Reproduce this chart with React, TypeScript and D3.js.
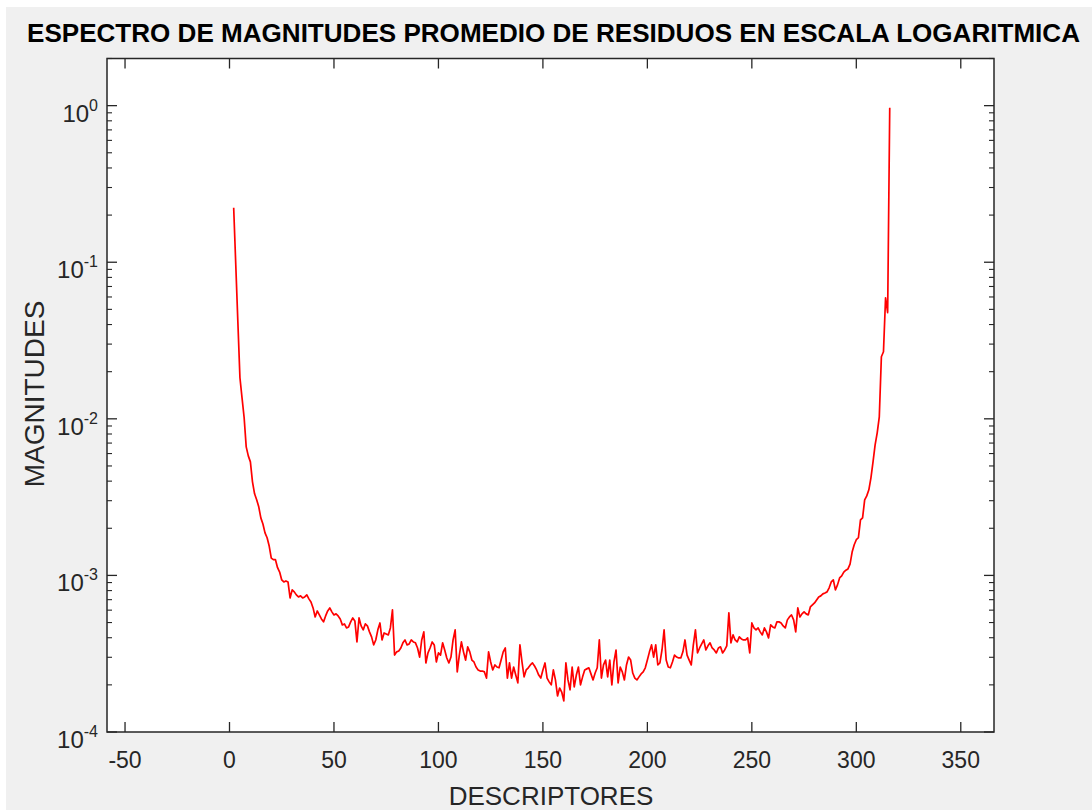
import React from "react";
import * as d3 from "d3";

// Descriptor index (x) and mean residual magnitude (y) per descriptor
const descriptors: number[] = d3.range(2, 317);
const magnitudes: number[] = [
  0.223, 0.0964, 0.0417, 0.0183, 0.0136, 0.0102, 0.00662, 0.0058, 0.00531, 0.00396,
  0.00332, 0.00304, 0.00274, 0.00233, 0.00213, 0.00187, 0.00174, 0.00154, 0.00129, 0.00126,
  0.00126, 0.00112, 0.00105, 9.36e-4, 9.08e-4, 9.22e-4, 9.08e-4, 7.18e-4, 8.08e-4, 7.85e-4,
  7.51e-4, 7.29e-4, 7.4e-4, 7.18e-4, 7.29e-4, 7.51e-4, 7.08e-4, 6.77e-4, 6.2e-4, 5.43e-4,
  5.93e-4, 5.59e-4, 5.27e-4, 5.05e-4, 5.51e-4, 5.93e-4, 6.2e-4, 5.85e-4, 5.59e-4, 5.68e-4,
  5.51e-4, 5.27e-4, 4.83e-4, 4.9e-4, 4.62e-4, 4.69e-4, 5.05e-4, 5.35e-4, 5.12e-4, 3.76e-4,
  5.35e-4, 4.76e-4, 4.49e-4, 4.9e-4, 4.76e-4, 4.36e-4, 4.05e-4, 3.6e-4, 3.87e-4, 4.49e-4,
  4.97e-4, 3.87e-4, 4.29e-4, 4.23e-4, 4.17e-4, 4.62e-4, 6.02e-4, 3.1e-4, 3.25e-4, 3.29e-4,
  3.44e-4, 3.71e-4, 3.87e-4, 3.6e-4, 3.65e-4, 3.87e-4, 3.76e-4, 3.71e-4, 3.44e-4, 3.01e-4,
  3.87e-4, 4.36e-4, 2.76e-4, 3.2e-4, 3.44e-4, 3.76e-4, 3.6e-4, 2.8e-4, 3.2e-4, 3.1e-4,
  3.71e-4, 3.34e-4, 2.97e-4, 2.76e-4, 3.01e-4, 3.87e-4, 4.49e-4, 2.42e-4, 3.1e-4, 3.76e-4,
  3.25e-4, 2.88e-4, 3.5e-4, 3.25e-4, 2.88e-4, 2.8e-4, 2.6e-4, 2.49e-4, 2.45e-4, 2.45e-4,
  2.42e-4, 2.21e-4, 3.25e-4, 2.8e-4, 2.49e-4, 2.68e-4, 2.6e-4, 2.57e-4, 2.88e-4, 3.25e-4,
  3.44e-4, 2.21e-4, 2.76e-4, 2.21e-4, 2.6e-4, 2.31e-4, 2.06e-4, 3.6e-4, 2.8e-4, 2.25e-4,
  2.49e-4, 2.57e-4, 2.68e-4, 2.76e-4, 2.64e-4, 2.49e-4, 2.31e-4, 2.21e-4, 2.49e-4, 2.76e-4,
  2.21e-4, 2.09e-4, 2.0e-4, 2.49e-4, 2.15e-4, 1.7e-4, 1.91e-4, 1.8e-4, 1.58e-4, 2.76e-4,
  2.15e-4, 1.86e-4, 2.6e-4, 1.94e-4, 2.31e-4, 2.6e-4, 2.0e-4, 2.25e-4, 2.49e-4, 2.53e-4,
  2.57e-4, 2.35e-4, 2.15e-4, 2.38e-4, 2.57e-4, 3.87e-4, 2.21e-4, 2.68e-4, 2.88e-4, 2.25e-4,
  2.88e-4, 2.0e-4, 2.8e-4, 3.34e-4, 2.06e-4, 2.6e-4, 2.42e-4, 2.15e-4, 2.68e-4, 3.01e-4,
  2.88e-4, 2.38e-4, 2.21e-4, 2.15e-4, 2.25e-4, 2.35e-4, 2.42e-4, 2.57e-4, 2.88e-4, 3.25e-4,
  3.6e-4, 3.01e-4, 3.6e-4, 2.68e-4, 2.76e-4, 3.34e-4, 4.49e-4, 2.88e-4, 2.6e-4, 2.57e-4,
  2.8e-4, 3.1e-4, 3.01e-4, 2.97e-4, 2.97e-4, 3.25e-4, 3.87e-4, 3.1e-4, 2.88e-4, 2.68e-4,
  3.6e-4, 4.49e-4, 3.2e-4, 3.44e-4, 3.65e-4, 3.87e-4, 3.34e-4, 3.55e-4, 3.71e-4, 3.44e-4,
  3.34e-4, 3.2e-4, 3.44e-4, 3.5e-4, 3.2e-4, 3.34e-4, 3.55e-4, 5.76e-4, 3.71e-4, 4.17e-4,
  3.87e-4, 3.76e-4, 4.05e-4, 3.93e-4, 3.87e-4, 3.87e-4, 3.99e-4, 3.2e-4, 4.97e-4, 4.62e-4,
  4.49e-4, 4.62e-4, 4.36e-4, 4.17e-4, 4.62e-4, 4.36e-4, 3.99e-4, 4.83e-4, 4.69e-4, 4.62e-4,
  5.05e-4, 5.05e-4, 4.97e-4, 4.76e-4, 4.62e-4, 5.2e-4, 5.43e-4, 5.59e-4, 5.2e-4, 4.36e-4,
  6.2e-4, 5.43e-4, 5.68e-4, 5.85e-4, 5.68e-4, 5.59e-4, 6.29e-4, 6.48e-4, 6.67e-4, 6.97e-4,
  7.29e-4, 7.4e-4, 7.62e-4, 7.73e-4, 7.85e-4, 8.33e-4, 9.08e-4, 9.36e-4, 8.08e-4, 8.7e-4,
  9.64e-4, 9.93e-4, 0.00105, 0.00108, 0.0011, 0.00118, 0.00141, 0.00157, 0.00169, 0.00174,
  0.00226, 0.00233, 0.00304, 0.00322, 0.00352, 0.0042, 0.00531, 0.00682, 0.00814, 0.0103,
  0.0249, 0.0268, 0.0593, 0.0476, 0.971,
];

const xTickValues: number[] = [-50, 0, 50, 100, 150, 200, 250, 300, 350];
const yDecadeExponents: number[] = [-4, -3, -2, -1, 0];

const TITLE = "ESPECTRO DE MAGNITUDES PROMEDIO DE RESIDUOS EN ESCALA LOGARITMICA";
const X_LABEL = "DESCRIPTORES";
const Y_LABEL = "MAGNITUDES";

export default function App() {
  const W = 1092;
  const H = 811;
  const plot = { left: 107, right: 994, top: 58.5, bottom: 732 };

  const x = d3.scaleLinear().domain([-58.63, 365.9]).range([plot.left, plot.right]);
  const y = d3.scaleLog().domain([1e-4, 2]).range([plot.bottom, plot.top]);

  const pathD =
    d3
      .line<number>()
      .x((_, i) => x(descriptors[i]))
      .y((d) => y(d))(magnitudes) || "";

  // minor ticks 2..9 x 10^k inside the log domain
  const minorTicks: number[] = [];
  for (const e of [-4, -3, -2, -1, 0]) {
    for (let m = 2; m <= 9; m++) {
      const v = m * Math.pow(10, e);
      if (v <= y.domain()[1]) minorTicks.push(v);
    }
  }

  const axisColor = "#262626";
  const font = "'Liberation Sans', Arial, Helvetica, sans-serif";
  const majorLen = 10;
  const minorLen = 5;

  return (
    <svg
      width={W}
      height={H}
      style={{ position: "absolute", left: 0, top: 0, display: "block" }}
      fontFamily={font}
    >
      <rect x={0} y={0} width={W} height={H} fill="#ffffff" />
      <rect x={6} y={7} width={W - 6} height={H - 8} fill="#f0f0f0" />
      <rect
        x={plot.left}
        y={plot.top}
        width={plot.right - plot.left}
        height={plot.bottom - plot.top}
        fill="#ffffff"
      />

      <text
        x={553.5}
        y={42}
        textAnchor="middle"
        fontSize={25.5}
        fontWeight="bold"
        fill="#000000"
        textLength={1053}
        lengthAdjust="spacingAndGlyphs"
      >
        {TITLE}
      </text>

      <clipPath id="plot-clip">
        <rect
          x={plot.left}
          y={plot.top}
          width={plot.right - plot.left}
          height={plot.bottom - plot.top}
        />
      </clipPath>
      <path
        d={pathD}
        fill="none"
        stroke="#ff0000"
        strokeWidth={1.7}
        strokeLinejoin="round"
        clipPath="url(#plot-clip)"
      />

      {/* x ticks on bottom and top */}
      {xTickValues.map((t) => (
        <g key={`xt${t}`}>
          <line x1={x(t)} x2={x(t)} y1={plot.bottom} y2={plot.bottom - majorLen} stroke={axisColor} strokeWidth={1.3} />
          <line x1={x(t)} x2={x(t)} y1={plot.top} y2={plot.top + majorLen} stroke={axisColor} strokeWidth={1.3} />
          <text x={x(t)} y={768} textAnchor="middle" fontSize={23} fill={axisColor}>
            {t}
          </text>
        </g>
      ))}

      {/* y major ticks with 10^k labels */}
      {yDecadeExponents.map((e) => {
        const yy = y(Math.pow(10, e));
        return (
          <g key={`yt${e}`}>
            <line x1={plot.left} x2={plot.left + majorLen} y1={yy} y2={yy} stroke={axisColor} strokeWidth={1.3} />
            <line x1={plot.right} x2={plot.right - majorLen} y1={yy} y2={yy} stroke={axisColor} strokeWidth={1.3} />
            <text x={98} y={yy + 16} textAnchor="end" fontSize={24} fill={axisColor}>
              <tspan>10</tspan>
              <tspan fontSize={16} dy={-11}>
                {e}
              </tspan>
            </text>
          </g>
        );
      })}

      {/* y minor ticks */}
      {minorTicks.map((v) => {
        const yy = y(v);
        return (
          <g key={`ym${v}`}>
            <line x1={plot.left} x2={plot.left + minorLen} y1={yy} y2={yy} stroke={axisColor} strokeWidth={1.1} />
            <line x1={plot.right} x2={plot.right - minorLen} y1={yy} y2={yy} stroke={axisColor} strokeWidth={1.1} />
          </g>
        );
      })}

      <rect
        x={plot.left}
        y={plot.top}
        width={plot.right - plot.left}
        height={plot.bottom - plot.top}
        fill="none"
        stroke={axisColor}
        strokeWidth={1.5}
      />

      <text x={551} y={805} textAnchor="middle" fontSize={26} fill={axisColor}>
        {X_LABEL}
      </text>
      <text
        transform={`translate(44, 394) rotate(-90)`}
        textAnchor="middle"
        fontSize={28}
        fill={axisColor}
      >
        {Y_LABEL}
      </text>
    </svg>
  );
}
